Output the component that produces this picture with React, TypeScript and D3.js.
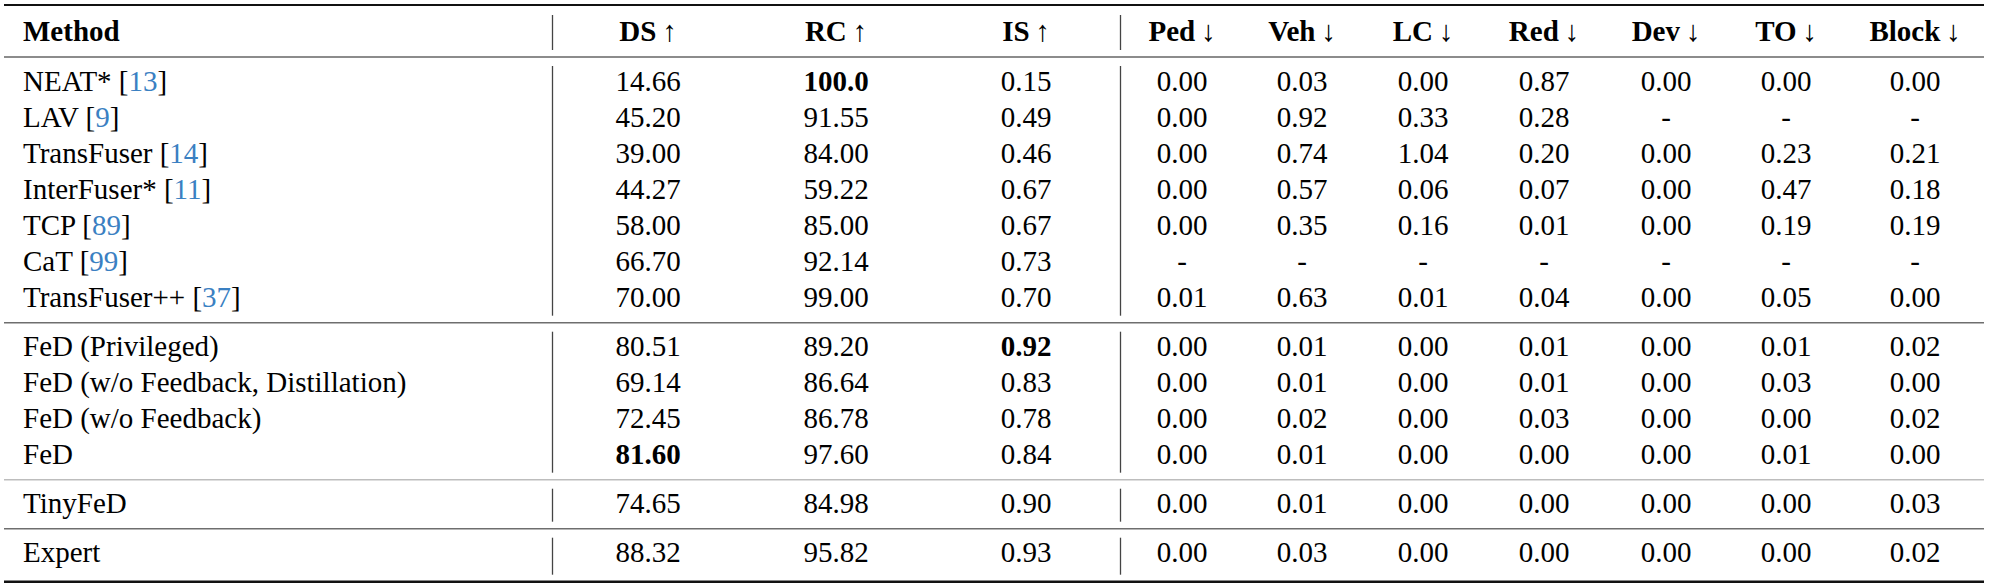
import { useEffect, useRef } from "react";
import * as d3 from "d3";

// rows (method name, citation, group)
const methods = [
  "NEAT*", "LAV", "TransFuser", "InterFuser*", "TCP", "CaT", "TransFuser++",
  "FeD (Privileged)", "FeD (w/o Feedback, Distillation)", "FeD (w/o Feedback)", "FeD",
  "TinyFeD",
  "Expert",
];
const citations = ["13", "9", "14", "11", "89", "99", "37", null, null, null, null, null, null];
const groups = [0, 0, 0, 0, 0, 0, 0, 1, 1, 1, 1, 2, 3];

// columns
const columns = ["DS", "RC", "IS", "Ped", "Veh", "LC", "Red", "Dev", "TO", "Block"];
const arrows = ["↑", "↑", "↑", "↓", "↓", "↓", "↓", "↓", "↓", "↓"];

// metric values (null = "-")
const ds = [14.66, 45.2, 39.0, 44.27, 58.0, 66.7, 70.0, 80.51, 69.14, 72.45, 81.6, 74.65, 88.32];
const rc = [100.0, 91.55, 84.0, 59.22, 85.0, 92.14, 99.0, 89.2, 86.64, 86.78, 97.6, 84.98, 95.82];
const is = [0.15, 0.49, 0.46, 0.67, 0.67, 0.73, 0.7, 0.92, 0.83, 0.78, 0.84, 0.9, 0.93];
const ped = [0.0, 0.0, 0.0, 0.0, 0.0, null, 0.01, 0.0, 0.0, 0.0, 0.0, 0.0, 0.0];
const veh = [0.03, 0.92, 0.74, 0.57, 0.35, null, 0.63, 0.01, 0.01, 0.02, 0.01, 0.01, 0.03];
const lc = [0.0, 0.33, 1.04, 0.06, 0.16, null, 0.01, 0.0, 0.0, 0.0, 0.0, 0.0, 0.0];
const red = [0.87, 0.28, 0.2, 0.07, 0.01, null, 0.04, 0.01, 0.01, 0.03, 0.0, 0.0, 0.0];
const dev = [0.0, null, 0.0, 0.0, 0.0, null, 0.0, 0.0, 0.0, 0.0, 0.0, 0.0, 0.0];
const to = [0.0, null, 0.23, 0.47, 0.19, null, 0.05, 0.01, 0.03, 0.0, 0.01, 0.0, 0.0];
const block = [0.0, null, 0.21, 0.18, 0.19, null, 0.0, 0.02, 0.0, 0.02, 0.0, 0.03, 0.02];

// best entries in bold: [column, row]
const bold = [["RC", 0], ["IS", 7], ["DS", 10]];

const W = 1989;
const H = 587;
const FONT = "'Liberation Serif', 'Times New Roman', Times, serif";
const BLUE = "#3a80c2";

export default function App() {
  const svgRef = useRef(null);

  useEffect(() => {
    const values = { DS: ds, RC: rc, IS: is, Ped: ped, Veh: veh, LC: lc, Red: red, Dev: dev, TO: to, Block: block };
    const svg = d3.select(svgRef.current);
    svg.selectAll("*").remove();

    const x = d3
      .scaleOrdinal()
      .domain(columns)
      .range([648, 836, 1026, 1182, 1302, 1423, 1544, 1666, 1786, 1915]);

    const pitch = 36;
    const groupGap = 13;
    const y = d3
      .scaleLinear()
      .domain([0, 1])
      .range([90.7, 90.7 + pitch]);
    const rowY = (i) => y(i + (groups[i] * groupGap) / pitch);
    const headerY = 40.7;
    const left = 4;
    const right = 1984;
    const methodX = 23;

    const g = svg
      .append("g")
      .attr("font-family", FONT)
      .attr("font-size", 29)
      .attr("fill", "#000");

    // horizontal rules
    const firstOfGroup = d3.range(1, 4).map((k) => groups.indexOf(k));
    const midRules = firstOfGroup.map((i) => rowY(i) - 33);
    const lastY = rowY(methods.length - 1);
    const ruleColors = ["#6e6e6e", "#bdbdbd", "#6e6e6e"];

    g.append("line").attr("x1", left).attr("x2", right).attr("y1", 5).attr("y2", 5)
      .attr("stroke", "#111").attr("stroke-width", 2.2);
    g.append("line").attr("x1", left).attr("x2", right).attr("y1", 57).attr("y2", 57)
      .attr("stroke", "#666").attr("stroke-width", 1.4);
    g.selectAll(".mid-rule")
      .data(midRules)
      .enter()
      .append("line")
      .attr("class", "mid-rule")
      .attr("x1", left)
      .attr("x2", right)
      .attr("y1", (d) => d)
      .attr("y2", (d) => d)
      .attr("stroke", (d, i) => ruleColors[i])
      .attr("stroke-width", 1.4);
    const bottomRule = lastY + 20;
    g.append("line").attr("x1", left).attr("x2", right).attr("y1", bottomRule).attr("y2", bottomRule)
      .attr("stroke", "#111").attr("stroke-width", 2.4);

    // vertical separators, broken at every rule
    const bounds = [[15, 50]];
    const tops = [57, ...midRules];
    const bottoms = [...midRules, bottomRule];
    tops.forEach((t, i) => bounds.push([t + 9, bottoms[i] - 7]));
    const sepX = [552.5, 1120.5];
    sepX.forEach((sx) => {
      g.selectAll(null)
        .data(bounds)
        .enter()
        .append("line")
        .attr("x1", sx)
        .attr("x2", sx)
        .attr("y1", (d) => d[0])
        .attr("y2", (d) => d[1])
        .attr("stroke", "#444")
        .attr("stroke-width", 1.3);
    });

    // header
    g.append("text")
      .attr("x", methodX)
      .attr("y", headerY)
      .attr("font-weight", "bold")
      .text("Method");
    const head = g
      .selectAll(".head")
      .data(columns)
      .enter()
      .append("text")
      .attr("class", "head")
      .attr("x", (d) => x(d))
      .attr("y", headerY)
      .attr("text-anchor", "middle");
    head.append("tspan").attr("font-weight", "bold").text((d) => d);
    head.append("tspan").text((d, i) => "\u2009" + arrows[i]);

    // method names
    const names = g
      .selectAll(".method")
      .data(methods)
      .enter()
      .append("text")
      .attr("class", "method")
      .attr("x", methodX)
      .attr("y", (d, i) => rowY(i));
    names.append("tspan").text((d, i) => (citations[i] ? d + " [" : d));
    names
      .filter((d, i) => citations[i] !== null)
      .each(function (d) {
        const i = methods.indexOf(d);
        const t = d3.select(this);
        t.append("tspan").attr("fill", BLUE).text(citations[i]);
        t.append("tspan").text("]");
      });

    // cells
    const fmt2 = d3.format(".2f");
    const fmt1 = d3.format(".1f");
    const isBold = (c, r) => bold.some((b) => b[0] === c && b[1] === r);
    columns.forEach((c) => {
      g.selectAll(null)
        .data(values[c])
        .enter()
        .append("text")
        .attr("x", x(c))
        .attr("y", (d, i) => rowY(i))
        .attr("text-anchor", "middle")
        .attr("font-weight", (d, i) => (isBold(c, i) ? "bold" : "normal"))
        .text((d) => (d === null ? "-" : d >= 100 ? fmt1(d) : fmt2(d)));
    });
  }, []);

  return (
    <svg
      ref={svgRef}
      width={W}
      height={H}
      style={{ position: "absolute", left: 0, top: 0, background: "#fff" }}
    />
  );
}
